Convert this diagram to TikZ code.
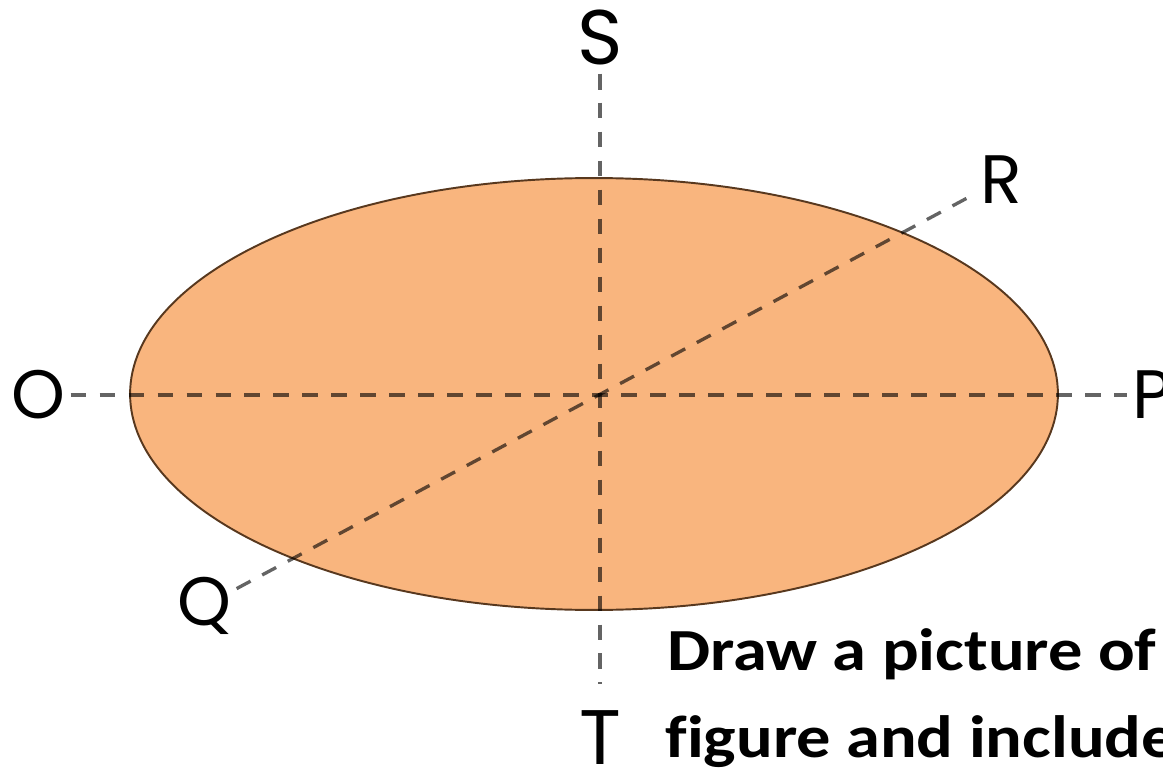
\documentclass[tikz,border=0pt]{standalone}
\usepackage{fontspec}
\setmainfont{Carlito}[Ligatures=NoCommon]
\newfontfamily\labelfont{Poppins}
\usetikzlibrary{shapes.geometric}
\definecolor{peach}{RGB}{249,181,126}
\definecolor{rim}{RGB}{88,56,30}
\definecolor{axisgray}{RGB}{100,100,100}

\begin{document}
\begin{tikzpicture}[
    x=0.02cm, y=-0.02cm,
    pt/.style={inner sep=3pt, font=\labelfont\fontsize{39}{42}\selectfont},
    bigpt/.style={pt, font=\labelfont\fontsize{44}{46}\selectfont},
    axis/.style={dashed, axisgray, line width=1.9pt,
      dash pattern=on 9pt off 7.5pt},
    task/.style={anchor=base west, inner sep=0pt, xscale=1.145,
      font=\bfseries\fontsize{34}{40}\selectfont}
  ]
  \clip (0,0) rectangle (1163,770);
  \useasboundingbox (0,0) rectangle (1163,770);

  \node[ellipse, fill=peach, draw=rim, line width=1.1pt,
        minimum width=18.56cm, minimum height=8.64cm] (disc) at (594,394) {};

  \node[bigpt] (S) at (600,37) {S};
  \node[bigpt] (T) at (600,738) {T};
  \node[pt] (O) at (38,395) {O};
  \node[pt] (P) at (1152,395) {P};
  \node[pt] (R) at (1001,180) {R};
  \node[pt] (Q) at (204,606) {Q};

  \begin{scope}[blend mode=multiply]
    \draw[axis] (O) -- (P);
    \draw[axis, shorten <=2pt, shorten >=12pt] (S) -- (T);
    \draw[axis] (Q) -- (R);
  \end{scope}

  \node[task] (line1) at (667,670) {Draw a picture of};
  \node[task] (line2) at (665,757) {figure and include};
\end{tikzpicture}
\end{document}
